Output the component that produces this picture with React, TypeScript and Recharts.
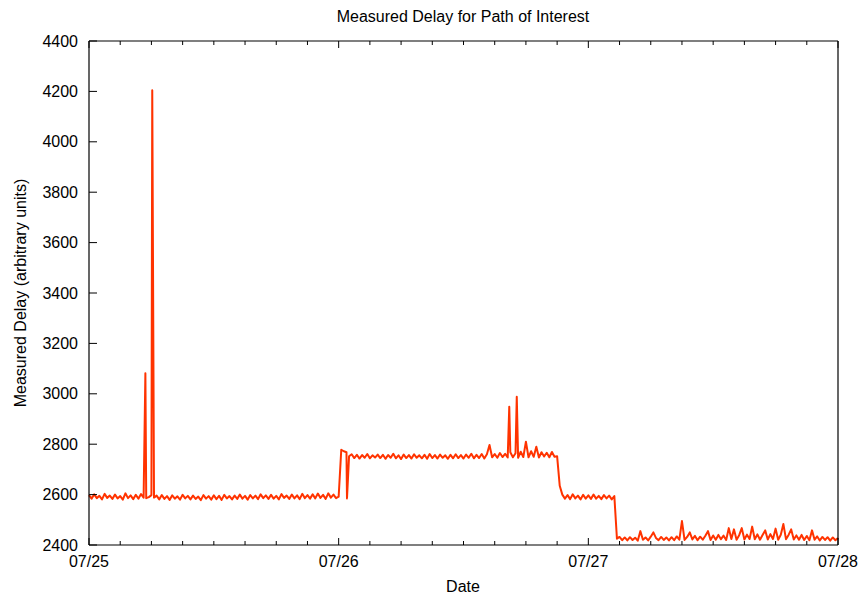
import React from 'react';
import { LineChart, Line, XAxis, YAxis } from 'recharts';

// x axis is hours since 07/25 00:00, labelled at each day boundary
const dayLabels = ['07/25', '07/26', '07/27', '07/28'];
const hourTicks = [0, 3, 6, 9, 12, 15, 18, 21, 24, 27, 30, 33, 36, 39, 42, 45, 48, 51, 54, 57, 60, 63, 66, 69, 72];
const delayTicks = [2400, 2600, 2800, 3000, 3200, 3400, 3600, 3800, 4000, 4200, 4400];

// samples every 15 minutes
const STEP = 0.25;

// 07/25 00:00 - 23:45
const day25 = [
  2598, 2584, 2601, 2586, 2595, 2581, 2603, 2587, 2596, 2583, 2600, 2585, 2594, 2580, 2605, 2586,
  2597, 2582, 2599, 2584, 2602, 2588, 2586, 2590, 2598, 2588, 2596, 2581, 2598, 2583, 2594, 2579,
  2597, 2584, 2593, 2580, 2599, 2585, 2595, 2581, 2596, 2583, 2592, 2578, 2598, 2584, 2594, 2580,
  2597, 2582, 2595, 2579, 2599, 2585, 2594, 2581, 2596, 2583, 2600, 2584, 2595, 2580, 2598, 2585,
  2596, 2582, 2601, 2586, 2597, 2583, 2599, 2584, 2595, 2581, 2602, 2587, 2596, 2583, 2600, 2585,
  2597, 2582, 2603, 2586, 2598, 2584, 2601, 2585, 2604, 2587, 2599, 2583, 2605, 2588, 2600, 2586,
];

// 07/26 00:00 - 23:45
const day26 = [
  2592, 2778, 2772, 2768, 2752, 2760, 2745, 2758, 2743, 2757, 2746, 2761, 2744, 2756, 2747, 2759,
  2745, 2758, 2742, 2757, 2746, 2762, 2744, 2756, 2741, 2759, 2745, 2757, 2743, 2760, 2746, 2756,
  2744, 2758, 2742, 2761, 2745, 2757, 2743, 2759, 2746, 2756, 2742, 2758, 2744, 2760, 2745, 2757,
  2743, 2759, 2746, 2762, 2744, 2758, 2745, 2761, 2743, 2760, 2797, 2748, 2761, 2746, 2765, 2749,
  2762, 2747, 2768, 2748, 2764, 2746, 2770, 2749, 2810, 2748, 2772, 2750, 2790, 2747, 2768, 2751,
  2766, 2748, 2769, 2750, 2752, 2635, 2600, 2584, 2598, 2582, 2601, 2585, 2596, 2581, 2599, 2584,
];

// 07/27 00:00 - 07/28 00:00
const day27 = [
  2597, 2583, 2600, 2584, 2595, 2582, 2598, 2585, 2596, 2581, 2594,
  2425, 2432, 2419, 2430, 2418,
  2431, 2420, 2429, 2417, 2455, 2421, 2430, 2418, 2433, 2450, 2428, 2419, 2432, 2420, 2430, 2418,
  2431, 2419, 2434, 2421, 2495, 2420, 2432, 2450, 2422, 2436, 2419, 2433, 2421, 2437, 2455, 2420,
  2438, 2421, 2440, 2423, 2437, 2420, 2467, 2424, 2462, 2421, 2439, 2467, 2422, 2441, 2424, 2473,
  2423, 2442, 2421, 2440, 2458, 2422, 2443, 2424, 2465, 2421, 2441, 2483, 2423, 2440, 2462, 2422,
  2438, 2421, 2440, 2420, 2436, 2419, 2458, 2421, 2434, 2418, 2432, 2420, 2431, 2417, 2430, 2419, 2428,
];

// short excursions between regular samples
const spikeHours = [5.42, 6.08, 24.8, 40.4, 41.12];
const spikeValues = [3082, 4205, 2585, 2949, 2988];

const series = [...day25, ...day26, ...day27].map((v, i) => ({ hour: i * STEP, delay: v }));
const spikes = spikeHours.map((h, i) => ({ hour: h, delay: spikeValues[i] }));
const data = [...series, ...spikes].sort((a, b) => a.hour - b.hour);

const FONT = '"Liberation Sans", Arial, Helvetica, sans-serif';
const RED = '#ff3300';

const BottomTick = (props: any) => {
  const { x, y, payload } = props;
  const major = payload.value % 24 === 0;
  return (
    <g>
      <line x1={x} x2={x} y1={y} y2={y - (major ? 7 : 4)} stroke="#000" />
      {major && (
        <text x={x} y={y + 22} textAnchor="middle" fontSize={16} fontFamily={FONT} fill="#000">
          {dayLabels[payload.value / 24]}
        </text>
      )}
    </g>
  );
};

const TopTick = (props: any) => {
  const { x, y, payload } = props;
  const major = payload.value % 24 === 0;
  return <line x1={x} x2={x} y1={y} y2={y + (major ? 7 : 4)} stroke="#000" />;
};

const LeftTick = (props: any) => {
  const { x, y, payload } = props;
  return (
    <g>
      <line x1={x} x2={x + 8} y1={y} y2={y} stroke="#000" />
      <text x={x - 11} y={y + 5.5} textAnchor="end" fontSize={16} fontFamily={FONT} fill="#000">
        {payload.value}
      </text>
    </g>
  );
};

const RightTick = (props: any) => {
  const { x, y } = props;
  return <line x1={x} x2={x - 8} y1={y} y2={y} stroke="#000" />;
};

export default function App() {
  return (
    <div style={{ position: 'absolute', left: 0, top: 0, width: 863, height: 599, background: '#fff' }}>
      <LineChart width={863} height={599} data={data} margin={{ top: 0, right: 0, bottom: 0, left: 0 }}>
        <XAxis
          dataKey="hour"
          type="number"
          domain={[0, 72]}
          ticks={hourTicks}
          interval={0}
          height={54}
          tickSize={0}
          tickMargin={0}
          tickLine={false}
          axisLine={{ stroke: '#000', strokeWidth: 1.2 }}
          tick={BottomTick}
        />
        <XAxis
          xAxisId="top"
          orientation="top"
          dataKey="hour"
          type="number"
          domain={[0, 72]}
          ticks={hourTicks}
          interval={0}
          height={41}
          tickSize={0}
          tickMargin={0}
          tickLine={false}
          axisLine={{ stroke: '#000', strokeWidth: 1.2 }}
          tick={TopTick}
        />
        <YAxis
          type="number"
          domain={[2400, 4400]}
          ticks={delayTicks}
          interval={0}
          width={89}
          tickSize={0}
          tickMargin={0}
          tickLine={false}
          axisLine={{ stroke: '#000', strokeWidth: 1.2 }}
          tick={LeftTick}
        />
        <YAxis
          yAxisId="right"
          orientation="right"
          type="number"
          domain={[2400, 4400]}
          ticks={delayTicks}
          interval={0}
          width={25}
          tickSize={0}
          tickMargin={0}
          tickLine={false}
          axisLine={{ stroke: '#000', strokeWidth: 1.2 }}
          tick={RightTick}
        />
        <Line
          type="linear"
          dataKey="delay"
          stroke={RED}
          strokeWidth={2}
          strokeLinejoin="round"
          dot={false}
          activeDot={false}
          isAnimationActive={false}
        />
      </LineChart>
      <svg
        width={863}
        height={599}
        style={{ position: 'absolute', left: 0, top: 0, pointerEvents: 'none' }}
        fontFamily={FONT}
        fontSize={16}
      >
        <text x={463} y={22} textAnchor="middle" fill="#000">
          Measured Delay for Path of Interest
        </text>
        <text x={463} y={592} textAnchor="middle" fill="#000">
          Date
        </text>
        <text x={26} y={293} textAnchor="middle" fill="#000" transform="rotate(-90 26 293)">
          Measured Delay (arbitrary units)
        </text>
      </svg>
    </div>
  );
}
